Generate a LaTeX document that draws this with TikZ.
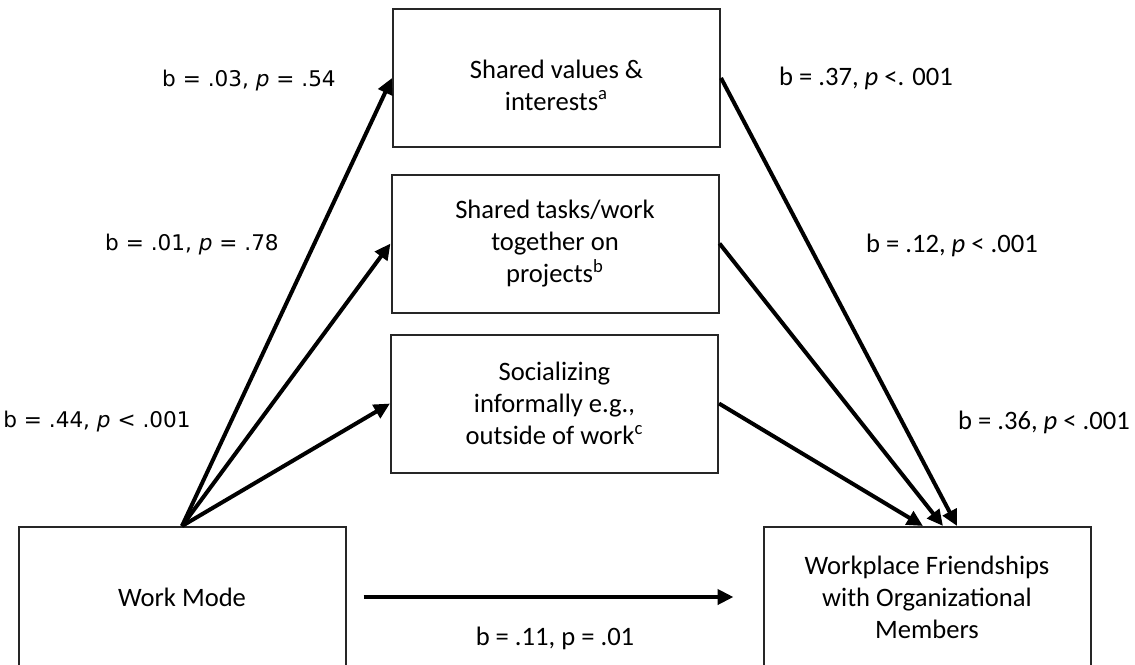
\documentclass[tikz,border=0pt]{standalone}
\usepackage{fontspec}
\setmainfont{Carlito}
\newfontfamily\labfont{DejaVu Sans}
\usetikzlibrary{arrows.meta}
\begin{document}
\begin{tikzpicture}[x=0.5pt,y=-0.5pt,
  box/.style={draw=black!85,line width=1pt,fill=white,align=center,
    minimum width=163.5pt,minimum height=69pt,inner sep=0pt,
    font=\fontsize{13.3}{16}\selectfont},
  bigbox/.style={box,minimum height=70pt},
  boxtext/.style={align=center,inner sep=0pt,font=\fontsize{13.3}{16}\selectfont},
  conn/.style={line width=2pt,-{Triangle[length=8pt,width=7.5pt]}},
  lablc/.style={font=\labfont\fontsize{10.8}{13}\selectfont,inner sep=0pt},
  labrc/.style={font=\fontsize{13.3}{16}\selectfont,inner sep=0pt}]
\useasboundingbox (0,0) rectangle (1135,664);
\clip (0,0) rectangle (1135,664);
\fill[white] (0,0) rectangle (1135,664);
\node[box] (A) at (556.5,78) {};
\node[boxtext] (At) at (556.5,85) {Shared values \&\\interests\textsuperscript{a}};
\node[box] (B) at (555,243.5) {Shared tasks/work\\together on\\projects\textsuperscript{b}};
\node[box] (C) at (554.5,403.5) {Socializing\\informally e.g.,\\outside of work\textsuperscript{c}};
\node[bigbox] (wm) at (182,597) {Work Mode};
\node[bigbox] (wf) at (927,597) {Workplace Friendships\\with Organizational\\Members};
\draw[conn] (wm.north) -- (A.west);
\draw[conn] (wm.north) -- (B.west);
\draw[conn] (wm.north) -- (C.west);
\draw[conn] (A.east) -- ([xshift=15pt]wf.north);
\draw[conn] (B.east) -- ([xshift=8pt]wf.north);
\draw[conn] (C.east) -- ([xshift=-2pt]wf.north);
\draw[conn] ([xshift=8.5pt]wm.east) -- ([xshift=-14.5pt]wf.west);
\node[lablc] (l1) at (249,81) {b = .03, \textit{p} = .54};
\node[lablc] (l2) at (192,245) {b = .01, \textit{p} = .78};
\node[lablc] (l3) at (97,422) {b = .44, \textit{p} < .001};
\node[labrc] (r1) at (866,78) {b = .37, \textit{p} <. 001};
\node[labrc] (r2) at (952,245) {b = .12, \textit{p} < .001};
\node[labrc] (r3) at (1044,422) {b = .36, \textit{p} < .001};
\node[labrc] (lb) at (555,638) {b = .11, p = .01};
\end{tikzpicture}
\end{document}
